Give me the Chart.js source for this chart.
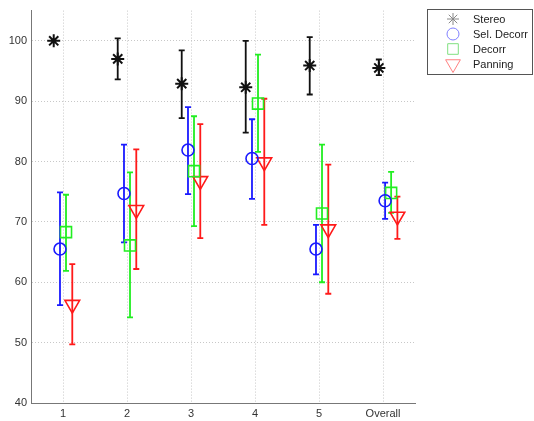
<!DOCTYPE html>
<html>
<head>
<meta charset="utf-8">
<script src="https://cdn.jsdelivr.net/npm/chart.js@4.4.0/dist/chart.umd.min.js"></script>
<style>
  html, body { margin: 0; padding: 0; background: #fff; }
  #wrap { width: 534px; height: 421px; }
</style>
</head>
<body>
<div id="wrap"><canvas id="errChart" width="534" height="421"></canvas></div>
<script>
// tick labels / categories
const categories = ['1', '2', '3', '4', '5', 'Overall'];
const yTicks = [40, 50, 60, 70, 80, 90, 100];

// series values (mean, lower and upper end of error bar)
const stereoMean = [100, 97.0, 92.9, 92.3, 95.9, 95.5];
const stereoLow  = [100, 93.6, 87.2, 84.8, 91.1, 94.3];
const stereoHigh = [100, 100.4, 98.4, 100.0, 100.6, 96.9];

const selMean = [65.5, 74.7, 81.9, 80.5, 65.5, 73.5];
const selLow  = [56.2, 66.6, 74.6, 73.8, 61.3, 70.5];
const selHigh = [74.9, 82.8, 89.0, 87.0, 69.5, 76.5];

const decMean = [68.3, 66.1, 78.4, 89.6, 71.4, 74.8];
const decLow  = [61.9, 54.2, 69.3, 81.6, 60.0, 71.5];
const decHigh = [74.5, 78.2, 87.5, 97.7, 82.8, 78.3];

const panMean = [56.3, 72.0, 76.8, 79.9, 68.8, 70.9];
const panLow  = [49.7, 62.2, 67.3, 69.5, 58.1, 67.2];
const panHigh = [63.0, 82.0, 86.2, 90.4, 79.5, 74.2];

// horizontal shift of each series inside a group, and of each group
const seriesShift = [-0.145, -0.047, 0.047, 0.145];
const groupShift = [0, 0, 0, 0, 0, 0.08];

function points(vals, s) {
    return vals.map((v, i) => ({ x: i + 1 + seriesShift[s] + groupShift[i], y: v }));
}

const errorBars = {
    id: 'errorBars',
    beforeDatasetsDraw(chart) {
        const ctx = chart.ctx;
        const y = chart.scales.y;
        chart.data.datasets.forEach((ds, di) => {
            const meta = chart.getDatasetMeta(di);
            ctx.save();
            ctx.strokeStyle = ds.borderColor;
            ctx.lineWidth = 1.8;
            meta.data.forEach((pt, i) => {
                const lo = ds.errLow[i], hi = ds.errHigh[i];
                if (lo === hi) return;
                const px = pt.x, y1 = y.getPixelForValue(lo), y2 = y.getPixelForValue(hi);
                ctx.beginPath();
                ctx.moveTo(px, y1); ctx.lineTo(px, y2);
                ctx.moveTo(px - 3, y1); ctx.lineTo(px + 3, y1);
                ctx.moveTo(px - 3, y2); ctx.lineTo(px + 3, y2);
                ctx.stroke();
            });
            ctx.restore();
        });
    }
};

const boxLegend = {
    id: 'boxLegend',
    afterDraw(chart) {
        const ctx = chart.ctx;
        ctx.save();
        ctx.fillStyle = '#fff';
        ctx.fillRect(427, 9, 105, 65);
        ctx.strokeStyle = '#555';
        ctx.lineWidth = 1;
        ctx.strokeRect(427.5, 9.5, 105, 65);
        ctx.font = '11px "Liberation Sans", Arial, sans-serif';
        ctx.textBaseline = 'middle';
        chart.data.datasets.forEach((ds, i) => {
            const yy = 19 + i * 15;
            ctx.strokeStyle = ds.legendColor;
            ctx.fillStyle = 'rgba(0,0,0,0)';
            ctx.lineWidth = 1;
            Chart.helpers.drawPoint(ctx, {
                pointStyle: ds.pointStyle,
                radius: ds.legendRadius,
                rotation: ds.rotation || 0,
                borderWidth: 1
            }, 453, yy);
            ctx.fillStyle = '#222';
            ctx.fillText(ds.label, 473, yy + 1);
        });
        ctx.restore();
    }
};

const tickFont = { family: '"Liberation Sans", Arial, sans-serif', size: 11 };
const gridOpts = { color: '#c8c8c8', lineWidth: 1, drawTicks: false };

new Chart(document.getElementById('errChart'), {
    type: 'scatter',
    data: {
        datasets: [{
            label: 'Stereo',
            data: points(stereoMean, 0),
            errLow: stereoLow, errHigh: stereoHigh,
            borderColor: '#111', backgroundColor: 'transparent',
            pointStyle: 'star', pointRadius: 6.5, borderWidth: 2,
            legendColor: '#888', legendRadius: 6
        }, {
            label: 'Sel. Decorr',
            data: points(selMean, 1),
            errLow: selLow, errHigh: selHigh,
            borderColor: '#1a1aff', backgroundColor: 'transparent',
            pointStyle: 'circle', pointRadius: 6, borderWidth: 1.6,
            legendColor: '#8080ff', legendRadius: 6
        }, {
            label: 'Decorr',
            data: points(decMean, 2),
            errLow: decLow, errHigh: decHigh,
            borderColor: '#22ee22', backgroundColor: 'transparent',
            pointStyle: 'rect', pointRadius: 7.8, borderWidth: 1.6,
            legendColor: '#80e080', legendRadius: 7.5
        }, {
            label: 'Panning',
            data: points(panMean, 3),
            errLow: panLow, errHigh: panHigh,
            borderColor: '#ff1a1a', backgroundColor: 'transparent',
            pointStyle: 'triangle', rotation: 180, pointRadius: 8.5, borderWidth: 1.6,
            legendColor: '#ff8080', legendRadius: 8.5
        }]
    },
    options: {
        responsive: false,
        animation: false,
        layout: { padding: { left: 0, top: 9, right: 119, bottom: 0 } },
        plugins: {
            legend: { display: false },
            tooltip: { enabled: false }
        },
        scales: {
            x: {
                type: 'linear',
                min: 0.5, max: 6.5,
                afterBuildTicks(s) { s.ticks = categories.map((c, i) => ({ value: i + 1 })); },
                afterFit(s) { s.height = 18; },
                ticks: {
                    font: tickFont, color: '#333', padding: 4,
                    callback: (v) => categories[v - 1]
                },
                grid: gridOpts,
                border: { display: true, color: '#777', width: 1, dash: [1, 2] }
            },
            y: {
                min: 40, max: 105,
                afterBuildTicks(s) { s.ticks = yTicks.map(v => ({ value: v })); },
                afterFit(s) { s.width = 31; },
                ticks: { font: tickFont, color: '#333', padding: 4 },
                grid: gridOpts,
                border: { display: true, color: '#777', width: 1, dash: [1, 2] }
            }
        }
    },
    plugins: [errorBars, boxLegend]
});
</script>
</body>
</html>
